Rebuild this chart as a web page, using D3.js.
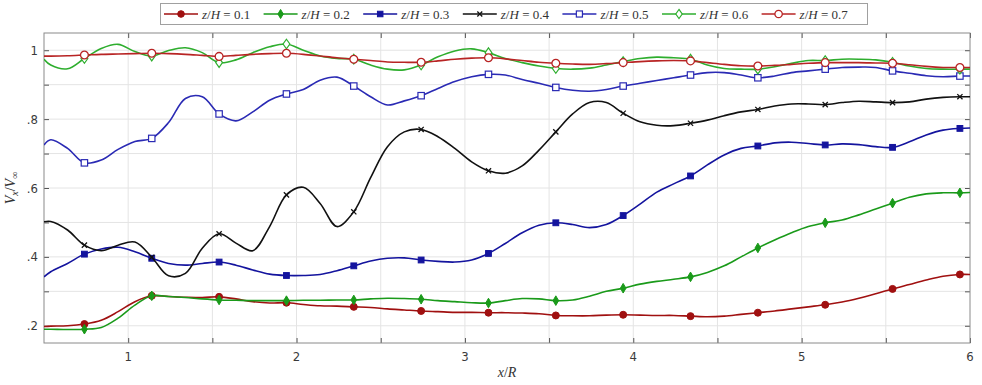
<!DOCTYPE html>
<html>
<head>
<meta charset="utf-8">
<script src="https://cdn.jsdelivr.net/npm/d3@7"></script>
<style>
  html, body { margin: 0; padding: 0; background: #fff; }
  svg { display: block; }
  .tick-label { font-family: "DejaVu Sans Condensed", "DejaVu Sans", sans-serif; font-stretch: condensed; font-size: 13px; fill: #3a3a3a; }
  .math { font-family: "Liberation Serif", "DejaVu Serif", serif; fill: #333; }
</style>
</head>
<body>
<svg id="chart" width="982" height="385"></svg>
<script>
// Streamwise positions x/R of the sampled profile points
const xs = [0.5, 0.54, 0.64, 0.74, 0.84, 0.94, 1.04, 1.14, 1.24, 1.34, 1.44, 1.54, 1.64, 1.74,
  1.84, 1.94, 2.04, 2.14, 2.24, 2.34, 2.44, 2.54, 2.64, 2.74, 2.84, 2.94, 3.04, 3.14, 3.24,
  3.34, 3.44, 3.54, 3.64, 3.74, 3.84, 3.94, 4.04, 4.14, 4.24, 4.34, 4.44, 4.54, 4.64, 4.74,
  4.84, 4.94, 5.04, 5.14, 5.24, 5.34, 5.44, 5.54, 5.64, 5.74, 5.84, 5.94, 6.0];

// Normalised streamwise velocity Vx/V∞ at each height z/H
const v01 = [0.198, 0.199, 0.200, 0.205, 0.216, 0.241, 0.270, 0.287, 0.285, 0.283, 0.282, 0.284, 0.278, 0.270,
  0.266, 0.267, 0.262, 0.258, 0.257, 0.255, 0.253, 0.249, 0.246, 0.243, 0.241, 0.239, 0.239, 0.238, 0.238,
  0.237, 0.235, 0.230, 0.229, 0.229, 0.231, 0.232, 0.231, 0.230, 0.230, 0.228, 0.226, 0.228, 0.233, 0.238,
  0.243, 0.249, 0.255, 0.261, 0.269, 0.280, 0.293, 0.307, 0.320, 0.333, 0.344, 0.349, 0.349];
const v02 = [0.190, 0.190, 0.189, 0.190, 0.195, 0.222, 0.260, 0.287, 0.285, 0.282, 0.278, 0.275, 0.274, 0.273,
  0.273, 0.273, 0.274, 0.274, 0.275, 0.275, 0.278, 0.280, 0.279, 0.277, 0.273, 0.270, 0.267, 0.266, 0.273,
  0.279, 0.278, 0.273, 0.275, 0.286, 0.300, 0.309, 0.321, 0.329, 0.335, 0.342, 0.355, 0.374, 0.400, 0.426,
  0.449, 0.470, 0.488, 0.499, 0.507, 0.522, 0.539, 0.556, 0.573, 0.583, 0.586, 0.586, 0.587];
const v03 = [0.342, 0.357, 0.381, 0.408, 0.423, 0.428, 0.415, 0.396, 0.381, 0.376, 0.381, 0.385, 0.376, 0.362,
  0.350, 0.346, 0.346, 0.349, 0.360, 0.374, 0.388, 0.396, 0.397, 0.391, 0.387, 0.385, 0.391, 0.410, 0.439,
  0.470, 0.492, 0.499, 0.494, 0.485, 0.494, 0.520, 0.553, 0.588, 0.612, 0.635, 0.667, 0.696, 0.715, 0.722,
  0.731, 0.733, 0.729, 0.725, 0.728, 0.726, 0.720, 0.718, 0.734, 0.754, 0.768, 0.773, 0.774];
const v04 = [0.502, 0.503, 0.478, 0.434, 0.418, 0.434, 0.443, 0.399, 0.345, 0.352, 0.425, 0.467, 0.440, 0.418,
  0.488, 0.580, 0.602, 0.555, 0.488, 0.531, 0.630, 0.720, 0.763, 0.770, 0.749, 0.715, 0.676, 0.650, 0.643,
  0.664, 0.710, 0.763, 0.815, 0.848, 0.848, 0.817, 0.792, 0.782, 0.781, 0.788, 0.797, 0.810, 0.821, 0.828,
  0.838, 0.844, 0.844, 0.842, 0.848, 0.852, 0.850, 0.848, 0.850, 0.858, 0.863, 0.865, 0.865];
const v05 = [0.725, 0.740, 0.715, 0.673, 0.681, 0.712, 0.735, 0.744, 0.790, 0.860, 0.865, 0.815, 0.795, 0.821,
  0.855, 0.873, 0.886, 0.913, 0.922, 0.896, 0.865, 0.841, 0.853, 0.868, 0.889, 0.909, 0.923, 0.930, 0.928,
  0.915, 0.904, 0.892, 0.884, 0.881, 0.886, 0.896, 0.904, 0.912, 0.920, 0.928, 0.935, 0.935, 0.928, 0.920,
  0.925, 0.935, 0.940, 0.945, 0.950, 0.951, 0.950, 0.940, 0.933, 0.926, 0.923, 0.925, 0.925];
const v06 = [0.974, 0.957, 0.946, 0.976, 1.005, 1.017, 0.996, 0.983, 0.999, 1.007, 0.993, 0.964, 0.972, 0.993,
  1.010, 1.018, 1.000, 0.983, 0.976, 0.974, 0.957, 0.945, 0.943, 0.957, 0.981, 0.998, 1.004, 0.993, 0.976,
  0.964, 0.954, 0.947, 0.945, 0.948, 0.957, 0.967, 0.976, 0.980, 0.978, 0.974, 0.957, 0.947, 0.945, 0.945,
  0.952, 0.962, 0.970, 0.970, 0.974, 0.974, 0.972, 0.965, 0.954, 0.947, 0.945, 0.945, 0.945];
const v07 = [0.983, 0.983, 0.984, 0.986, 0.988, 0.989, 0.990, 0.991, 0.990, 0.988, 0.985, 0.982, 0.985, 0.988,
  0.990, 0.991, 0.988, 0.983, 0.978, 0.974, 0.970, 0.966, 0.965, 0.965, 0.969, 0.974, 0.977, 0.978, 0.975,
  0.970, 0.965, 0.962, 0.960, 0.959, 0.961, 0.964, 0.967, 0.969, 0.970, 0.969, 0.964, 0.959, 0.955, 0.954,
  0.956, 0.959, 0.962, 0.964, 0.964, 0.964, 0.963, 0.962, 0.958, 0.953, 0.950, 0.950, 0.950];

const heights = ["0.1", "0.2", "0.3", "0.4", "0.5", "0.6", "0.7"];
const colors = ["#a01010", "#1a9a1a", "#14149e", "#111111", "#2a2ab4", "#2eae2e", "#b82424"];
const markerKinds = ["circleFilled", "diamondFilled", "squareFilled", "cross", "squareOpen", "diamondOpen", "circleOpen"];

const xTicks = [1, 2, 3, 4, 5, 6];
const xTickLabels = ["1", "2", "3", "4", "5", "6"];
const yTicks = [0.2, 0.4, 0.6, 0.8, 1.0];
const yTickLabels = [".2", ".4", ".6", ".8", "1"];

const series = [v01, v02, v03, v04, v05, v06, v07].map((vals, k) => ({
  name: heights[k],
  color: colors[k],
  kind: markerKinds[k],
  points: xs.map((x, i) => ({ x, y: vals[i], i }))
}));

const svg = d3.select("#chart");
const L = 44, R = 970, T = 33, B = 343;

const x = d3.scaleLinear().domain([0.5, 6]).range([L, R]);
const y = d3.scaleLinear().domain([0.15, 1.05]).range([B, T]);

const xMinor = d3.range(1, 6.01, 0.5);
const yMinor = d3.range(2, 11).map(v => v / 10);
const tickLen = 5;

// Grid lines
const grid = svg.append("g");
grid.selectAll("line.gx").data(xMinor.filter(v => v < 6))
  .join("line")
  .attr("x1", d => x(d)).attr("x2", d => x(d))
  .attr("y1", T).attr("y2", B)
  .attr("stroke", "#e4e4e4").attr("stroke-width", 1);
grid.selectAll("line.gy").data(yMinor)
  .join("line")
  .attr("x1", L).attr("x2", R)
  .attr("y1", d => y(d)).attr("y2", d => y(d))
  .attr("stroke", "#e4e4e4").attr("stroke-width", 1);

// Axes with inward ticks on all four sides
svg.append("g").attr("transform", `translate(0,${B})`)
  .call(d3.axisBottom(x).tickValues(xMinor).tickSize(-tickLen).tickFormat(""))
  .call(g => g.select(".domain").remove())
  .call(g => g.selectAll(".tick line").attr("stroke", "#555"));
svg.append("g").attr("transform", `translate(0,${T})`)
  .call(d3.axisTop(x).tickValues(xMinor).tickSize(-tickLen).tickFormat(""))
  .call(g => g.select(".domain").remove())
  .call(g => g.selectAll(".tick line").attr("stroke", "#555"));
svg.append("g").attr("transform", `translate(${L},0)`)
  .call(d3.axisLeft(y).tickValues(yMinor).tickSize(-tickLen).tickFormat(""))
  .call(g => g.select(".domain").remove())
  .call(g => g.selectAll(".tick line").attr("stroke", "#555"));
svg.append("g").attr("transform", `translate(${R},0)`)
  .call(d3.axisRight(y).tickValues(yMinor).tickSize(-tickLen).tickFormat(""))
  .call(g => g.select(".domain").remove())
  .call(g => g.selectAll(".tick line").attr("stroke", "#555"));

// Tick labels
svg.append("g").selectAll("text").data(xTicks).join("text")
  .attr("class", "tick-label")
  .attr("x", d => x(d)).attr("y", B + 18)
  .attr("text-anchor", "middle")
  .text((d, i) => xTickLabels[i]);
svg.append("g").selectAll("text").data(yTicks).join("text")
  .attr("class", "tick-label")
  .attr("x", L - 6).attr("y", d => y(d) + 4.5)
  .attr("text-anchor", "end")
  .text((d, i) => yTickLabels[i]);

// Plot box
svg.append("rect").attr("x", L).attr("y", T).attr("width", R - L).attr("height", B - T)
  .attr("fill", "none").attr("stroke", "#8a8a8a").attr("stroke-width", 1);

// Axis titles
const xt = svg.append("text").attr("class", "math").attr("x", x(3.25)).attr("y", 377)
  .attr("text-anchor", "middle").attr("font-size", 14);
xt.append("tspan").attr("font-style", "italic").text("x");
xt.append("tspan").text("/");
xt.append("tspan").attr("font-style", "italic").text("R");

const yt = svg.append("text").attr("class", "math")
  .attr("transform", `translate(15,${y(0.6)}) rotate(-90)`)
  .attr("text-anchor", "middle").attr("font-size", 14);
yt.append("tspan").attr("font-style", "italic").text("V");
yt.append("tspan").attr("font-style", "italic").attr("font-size", 10).attr("dy", 3).text("x");
yt.append("tspan").attr("dy", -3).text("/");
yt.append("tspan").attr("font-style", "italic").text("V");
yt.append("tspan").attr("font-size", 10).attr("dy", 3).text("∞");

// Curves
svg.append("defs").append("clipPath").attr("id", "plot-clip")
  .append("rect").attr("x", L).attr("y", T).attr("width", R - L).attr("height", B - T);

const line = d3.line().x(d => x(d.x)).y(d => y(d.y)).curve(d3.curveCatmullRom.alpha(0.5));

function drawMarker(g, kind, color, scale) {
  const s = scale || 1;
  switch (kind) {
    case "circleFilled":
      g.append("circle").attr("r", 3.5 * s).attr("fill", color).attr("stroke", color);
      break;
    case "circleOpen":
      g.append("circle").attr("r", 3.9 * s).attr("fill", "#fff").attr("stroke", color).attr("stroke-width", 1.3);
      break;
    case "diamondFilled":
      g.append("path").attr("d", `M0,${-4.8 * s}L${2.8 * s},0L0,${4.8 * s}L${-2.8 * s},0Z`).attr("fill", color).attr("stroke", color);
      break;
    case "diamondOpen":
      g.append("path").attr("d", `M0,${-4.8 * s}L${3.4 * s},0L0,${4.8 * s}L${-3.4 * s},0Z`).attr("fill", "#fff").attr("stroke", color).attr("stroke-width", 1.2);
      break;
    case "squareFilled":
      g.append("rect").attr("x", -2.9 * s).attr("y", -2.9 * s).attr("width", 5.8 * s).attr("height", 5.8 * s).attr("fill", color).attr("stroke", color);
      break;
    case "squareOpen":
      g.append("rect").attr("x", -3.2 * s).attr("y", -3.2 * s).attr("width", 6.4 * s).attr("height", 6.4 * s).attr("fill", "#fff").attr("stroke", color).attr("stroke-width", 1.2);
      break;
    case "cross":
      g.append("path").attr("d", `M${-2.6 * s},${-2.6 * s}L${2.6 * s},${2.6 * s}M${-2.6 * s},${2.6 * s}L${2.6 * s},${-2.6 * s}`).attr("stroke", color).attr("stroke-width", 1.3).attr("fill", "none");
      break;
  }
}

const plot = svg.append("g").attr("clip-path", "url(#plot-clip)");
series.forEach(s => {
  const g = plot.append("g");
  g.append("path").datum(s.points).attr("d", line)
    .attr("fill", "none").attr("stroke", s.color).attr("stroke-width", 1.6);
  const marks = s.points.filter(p => p.i >= 3 && (p.i - 3) % 4 === 0);
  marks.forEach(p => {
    const mg = g.append("g").attr("transform", `translate(${x(p.x)},${y(p.y)})`);
    drawMarker(mg, s.kind, s.color, 1);
  });
});

// Legend
const lg = svg.append("g");
lg.append("rect").attr("x", 160.5).attr("y", 3.5).attr("width", 707).attr("height", 21)
  .attr("fill", "#fff").attr("stroke", "#a0a0a0");
series.forEach((s, k) => {
  const x0 = 164 + k * 99.6;
  const item = lg.append("g").attr("transform", `translate(${x0},14)`);
  item.append("line").attr("x1", 0).attr("x2", 34).attr("y1", 0).attr("y2", 0)
    .attr("stroke", s.color).attr("stroke-width", 1.5);
  const mg = item.append("g").attr("transform", "translate(17,0)");
  drawMarker(mg, s.kind, s.color, 0.95);
  const t = item.append("text").attr("class", "math").attr("x", 38).attr("y", 4.5).attr("font-size", 13);
  t.append("tspan").attr("font-style", "italic").text("z");
  t.append("tspan").text("/");
  t.append("tspan").attr("font-style", "italic").text("H");
  t.append("tspan").text(" = " + s.name);
});
</script>
</body>
</html>
